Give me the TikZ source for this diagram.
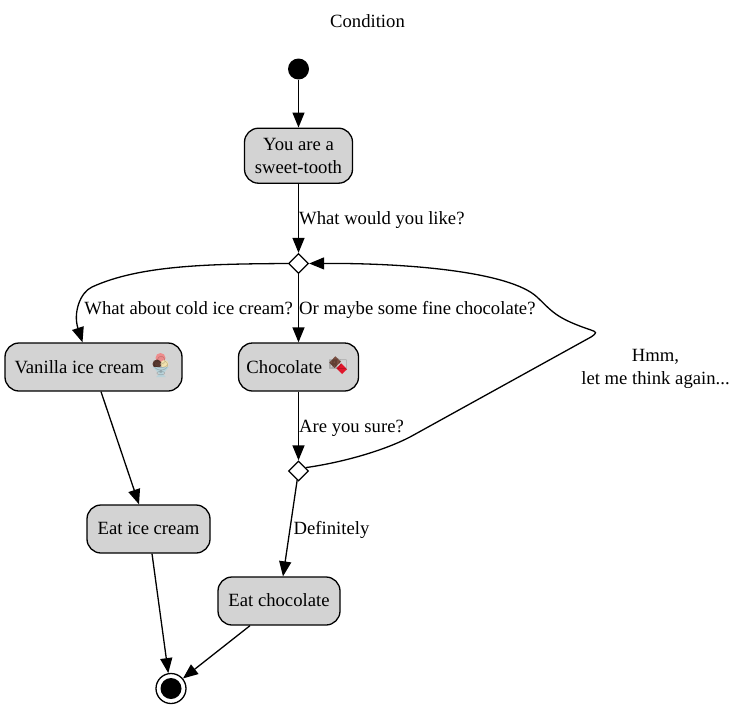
\documentclass[tikz,border=0pt]{standalone}
\usepackage{fontspec}
\setmainfont{Liberation Serif}
\newfontfamily\emojifont{Noto Emoji}
\usetikzlibrary{arrows.meta,positioning,shapes.geometric}
\definecolor{boxgray}{HTML}{D3D3D3}
\definecolor{choc}{HTML}{7A4F42}
\definecolor{wrapper}{HTML}{E0162B}
\definecolor{scoop}{HTML}{EE8C8C}
\definecolor{vanillacream}{HTML}{F3E3B0}
\definecolor{cocoa}{HTML}{5A3A30}
\definecolor{cup}{HTML}{B9D3DA}

\begin{document}
\begin{tikzpicture}[x=1pt,y=-1pt,>={Stealth[inset=0pt,length=15pt,width=12pt]},line width=1.3pt,font=\fontsize{18.67}{23}\selectfont,
every edge/.style={draw,->},
activity/.style={draw,fill=boxgray,rounded corners=14pt,line width=1.3pt,inner sep=0pt,minimum height=48pt,align=center},
oneline/.style={activity,text height=13.2pt,text depth=3pt},
emojibox/.style={activity,text height=15.2pt,text depth=3pt},
branch/.style={draw,diamond,fill=white,inner sep=0pt,minimum size=20pt},
lbl/.style={inner sep=0pt,align=center},
edgelbl/.style={inner sep=0pt,text height=14pt,text depth=3pt},
midlbl/.style={edgelbl,midway,right,yshift=-1pt},
emoji/.style={inner sep=0pt,font=\fontsize{18.67}{23}\emojifont,text opacity=0.2}]
\useasboundingbox (0,0) rectangle (735,709);
\node[edgelbl] (title) at (367.5,21.7) {Condition};
\node[circle,fill=black,inner sep=0pt,minimum size=21pt] (start) at (298.5,69) {};
\node[activity, minimum width=108pt, minimum height=55pt] (sweet) at (298.5,155.7) {You are a\\sweet-tooth};
\node[branch] (choice) at (298.5,263.5) {};
\node[emojibox, minimum width=177pt] (vanilla) at (93.5,367) {Vanilla ice cream {\emojifont\phantom{🍨}}};
\node[emojibox, minimum width=120pt] (chocolate) at (298.5,367) {Chocolate {\emojifont\phantom{🍫}}};
\node[branch] (sure) at (298.5,471) {};
\node[oneline, minimum width=123pt] (eatice) at (148.5,529) {Eat ice cream};
\node[oneline, minimum width=122pt] (eatchoc) at (279,601) {Eat chocolate};
\node[circle,draw,inner sep=0pt,minimum size=30pt] (final) at (171,688.5) {};
\node[circle,fill=black,inner sep=0pt,minimum size=21pt] (finaldot) at (171,688.5) {};
% emoji colours, under the glyphs
\fill[scoop] (160.5,358) circle (5);
\fill[cocoa] (157,364) circle (4.5);
\fill[vanillacream] (164.5,364) circle (4);
\fill[cup] (153,367) -- (169,367) -- (163,374) -- (166,377) -- (156,377) -- (159,374) -- cycle;
\fill[choc] (335.3,356.3) -- (341,361.7) -- (334.7,368) -- (329.3,362.7) -- cycle;
\fill[wrapper] (341.3,363.3) -- (347,369.3) -- (342,374) -- (336.3,368.3) -- cycle;
\node[emoji] (icecream) at (161,366) {🍨};
\node[emoji, rotate=45] (bar) at (338,365) {🍫};
\node[edgelbl, anchor=east] (lblice) at (293.5,308.7) {What about cold ice cream?};
\node[lbl] (lblthink) at (655.5,369) {Hmm,\\let me think again...};
\node[edgelbl] (lbldef) at (331.5,528.7) {Definitely};
\path (start) edge (sweet);
\path (sweet) edge node[midlbl] {What would you like?} (choice);
\path (choice) edge node[midlbl] {Or maybe some fine chocolate?} (chocolate);
\path (chocolate) edge node[midlbl] {Are you sure?} (sure);
\draw[->] (choice.west) .. controls (210,264) and (140,265) .. (92,287) .. controls (80,292.5) and (73,313) .. ([xshift=-11pt]vanilla.north);
\path ([xshift=7.5pt]vanilla.south) edge ([xshift=-9.5pt]eatice.north);
\path ([xshift=3.5pt]eatice.south) edge (final.100);
\path (sure) edge ([xshift=4pt]eatchoc.north);
\path ([xshift=-29pt]eatchoc.south) edge (final.40);
\draw[->] (sure.25) .. controls (345,462) and (385,450) .. (410,437) -- (591,337) .. controls (597,333) and (597,332) .. (591,330) .. controls (555,318) and (552,311) .. (537,297) .. controls (510,272) and (410,263) .. (choice.east);
\end{tikzpicture}
\end{document}
